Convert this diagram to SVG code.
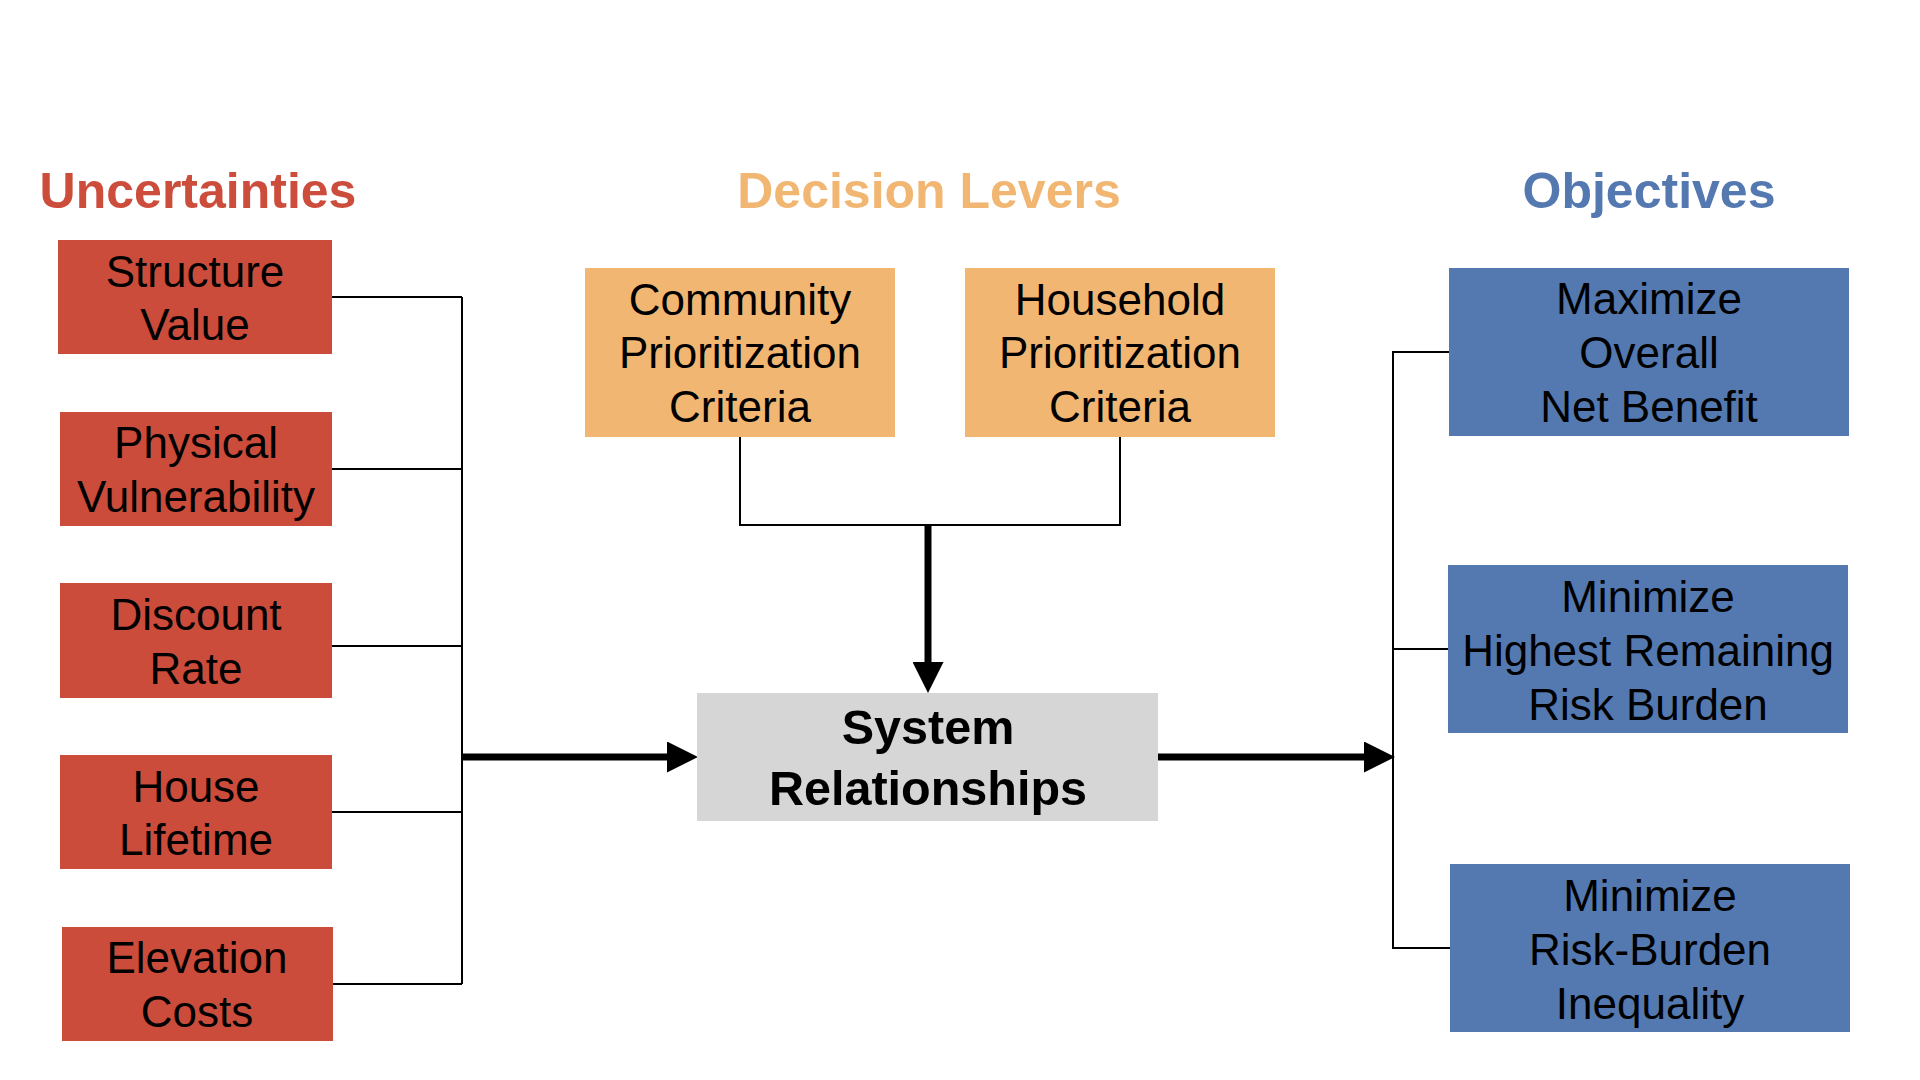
<svg xmlns="http://www.w3.org/2000/svg" width="1920" height="1080" viewBox="0 0 1920 1080">
  <style>
    .title { font-family: "Liberation Sans", Arial, Helvetica, sans-serif; font-weight: bold; font-size: 50px; text-anchor: middle; }
    .lbl { font-family: "Liberation Sans", Arial, Helvetica, sans-serif; font-size: 44px; text-anchor: middle; fill: #000; }
    .bold { font-weight: bold; font-size: 48.5px; }
    .red { fill: #CC4C3B; }
    .orange { fill: #F2B673; }
    .blue { fill: #5479B1; }
    .gray { fill: #D6D6D6; }
    .thin { stroke: #000; stroke-width: 2; fill: none; }
    .thick { stroke: #000; stroke-width: 7; fill: none; }
  </style>
  <defs>
    <marker id="ah" markerUnits="userSpaceOnUse" markerWidth="31" markerHeight="31" refX="0" refY="15.5" orient="auto" viewBox="0 0 31 31">
      <path d="M0,0 L31,15.5 L0,31 Z" fill="#000"/>
    </marker>
  </defs>
  <rect width="1920" height="1080" fill="#fff"/>

  <g id="titles">
    <text class="title" x="198" y="208" fill="#CD4D3C">Uncertainties</text>
    <text class="title" x="929" y="208" fill="#F2B673">Decision Levers</text>
    <text class="title" x="1649" y="208" fill="#5479B1">Objectives</text>
  </g>

  <g id="connectors">
    <path class="thin" d="M332,297 H462 M332,469 H462 M332,646 H462 M332,812 H462 M333,984 H462 M462,297 V984"/>
    <path class="thin" d="M740,437 V525 H1120 V437"/>
    <path class="thin" d="M1449,352 H1393 V948 H1450 M1393,649 H1448"/>
    <line class="thick" x1="462" y1="757" x2="667" y2="757" marker-end="url(#ah)"/>
    <line class="thick" x1="1158" y1="757" x2="1364" y2="757" marker-end="url(#ah)"/>
    <line class="thick" x1="928" y1="525" x2="928" y2="662" marker-end="url(#ah)"/>
  </g>

  <g id="structure-value">
    <rect class="red" x="58" y="240" width="274" height="114"/>
    <text class="lbl" x="195" y="287">Structure</text>
    <text class="lbl" x="195" y="340">Value</text>
  </g>
  <g id="physical-vulnerability">
    <rect class="red" x="60" y="412" width="272" height="114"/>
    <text class="lbl" x="196" y="458">Physical</text>
    <text class="lbl" x="196" y="512">Vulnerability</text>
  </g>
  <g id="discount-rate">
    <rect class="red" x="60" y="583" width="272" height="115"/>
    <text class="lbl" x="196" y="630">Discount</text>
    <text class="lbl" x="196" y="684">Rate</text>
  </g>
  <g id="house-lifetime">
    <rect class="red" x="60" y="755" width="272" height="114"/>
    <text class="lbl" x="196" y="802">House</text>
    <text class="lbl" x="196" y="855">Lifetime</text>
  </g>
  <g id="elevation-costs">
    <rect class="red" x="62" y="927" width="271" height="114"/>
    <text class="lbl" x="197" y="973">Elevation</text>
    <text class="lbl" x="197" y="1027">Costs</text>
  </g>

  <g id="community-criteria">
    <rect class="orange" x="585" y="268" width="310" height="169"/>
    <text class="lbl" x="740" y="315">Community</text>
    <text class="lbl" x="740" y="368">Prioritization</text>
    <text class="lbl" x="740" y="422">Criteria</text>
  </g>
  <g id="household-criteria">
    <rect class="orange" x="965" y="268" width="310" height="169"/>
    <text class="lbl" x="1120" y="315">Household</text>
    <text class="lbl" x="1120" y="368">Prioritization</text>
    <text class="lbl" x="1120" y="422">Criteria</text>
  </g>

  <g id="system-relationships">
    <rect class="gray" x="697" y="693" width="461" height="128"/>
    <text class="lbl bold" x="928" y="744">System</text>
    <text class="lbl bold" x="928" y="805">Relationships</text>
  </g>

  <g id="max-net-benefit">
    <rect class="blue" x="1449" y="268" width="400" height="168"/>
    <text class="lbl" x="1649" y="314">Maximize</text>
    <text class="lbl" x="1649" y="368">Overall</text>
    <text class="lbl" x="1649" y="422">Net Benefit</text>
  </g>
  <g id="min-highest-risk">
    <rect class="blue" x="1448" y="565" width="400" height="168"/>
    <text class="lbl" x="1648" y="612">Minimize</text>
    <text class="lbl" x="1648" y="666">Highest Remaining</text>
    <text class="lbl" x="1648" y="720">Risk Burden</text>
  </g>
  <g id="min-inequality">
    <rect class="blue" x="1450" y="864" width="400" height="168"/>
    <text class="lbl" x="1650" y="911">Minimize</text>
    <text class="lbl" x="1650" y="965">Risk-Burden</text>
    <text class="lbl" x="1650" y="1019">Inequality</text>
  </g>
</svg>
